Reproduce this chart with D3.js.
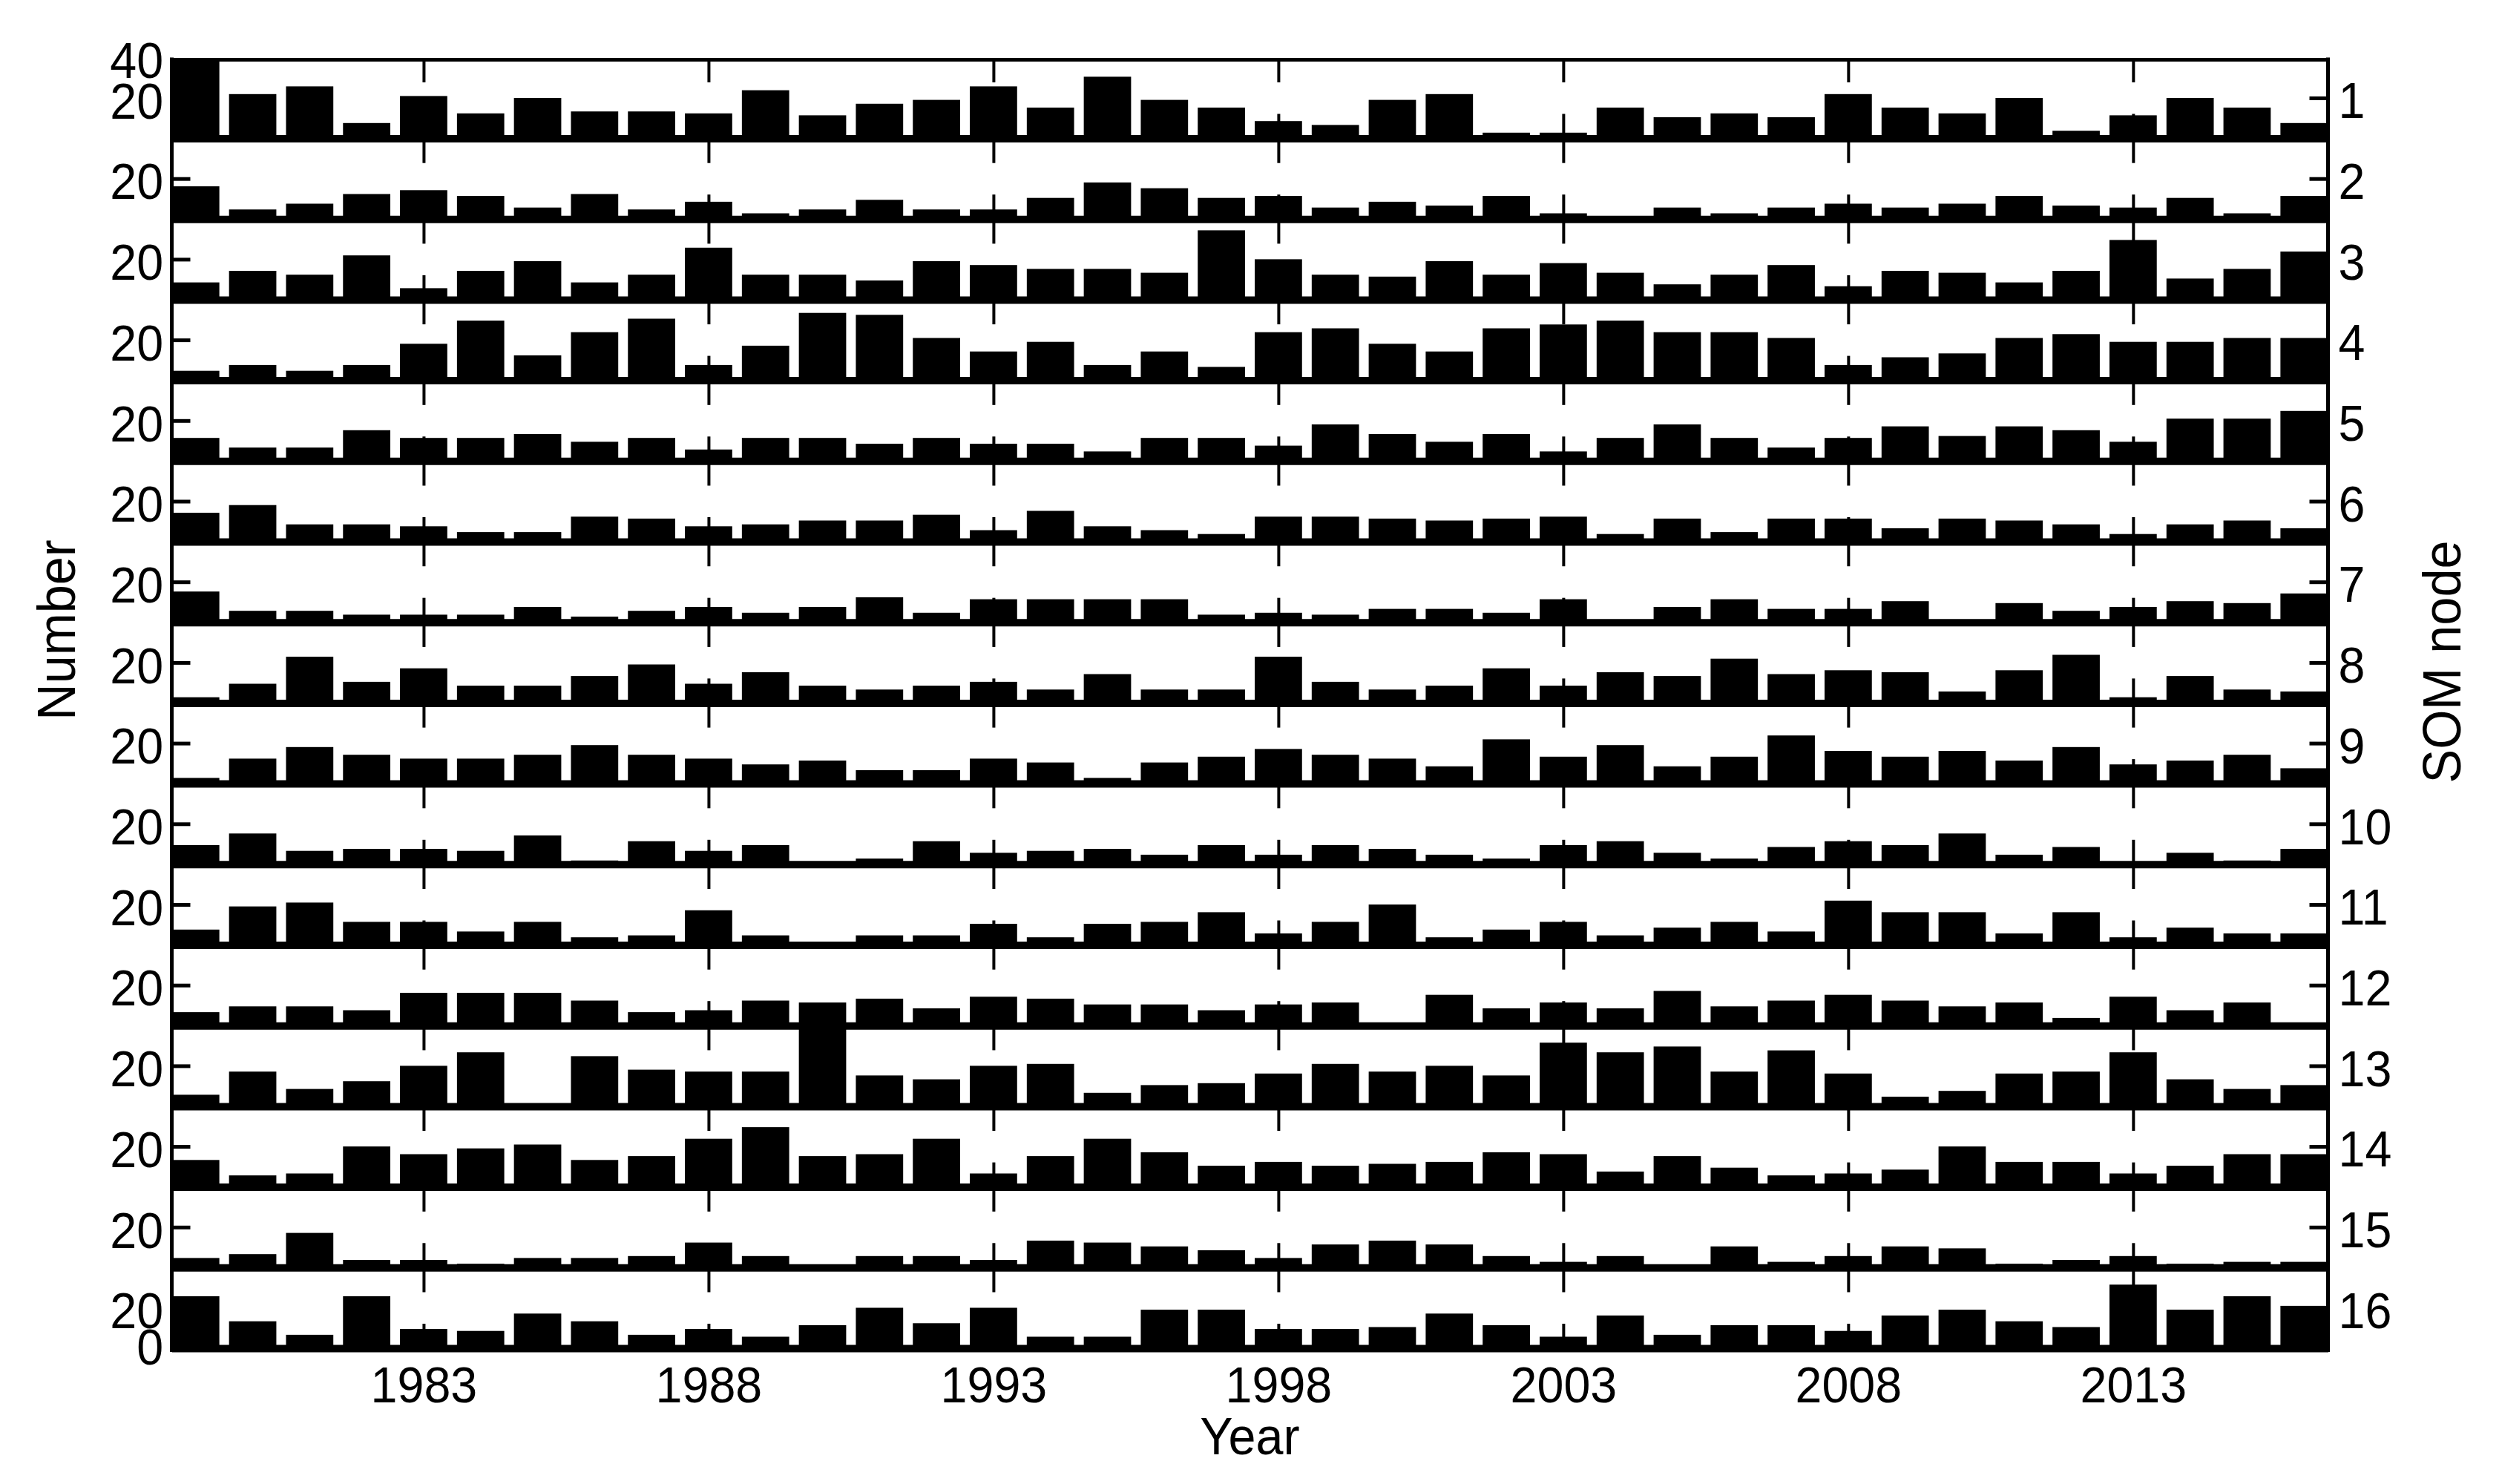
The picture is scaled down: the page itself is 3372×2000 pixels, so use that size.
<!DOCTYPE html>
<meta charset="utf-8">
<style>

 body { margin: 0; background: #fff; }
 text { font-family: "Liberation Sans", Arial, sans-serif; fill: #000; }
 .tick line { stroke: #000; }

</style>
<body>
<svg width="3372" height="2000"></svg>
<script src="https://d3js.org/d3.v7.min.js"></script>
<script>

 // one bar per year, one row per SOM node
 var years = [1979, 1980, 1981, 1982, 1983, 1984, 1985, 1986, 1987, 1988,
              1989, 1990, 1991, 1992, 1993, 1994, 1995, 1996, 1997, 1998,
              1999, 2000, 2001, 2002, 2003, 2004, 2005, 2006, 2007, 2008,
              2009, 2010, 2011, 2012, 2013, 2014, 2015, 2016];
 var xTicks = [1983, 1988, 1993, 1998, 2003, 2008, 2013];

 var node1  = [40,22,26,7,21,12,20,13,13,12,24,11,17,19,26,15,31,19,15,8,6,19,22,2,2,15,10,12,10,22,15,12,20,3,11,20,15,7];
 var node2  = [16,4,7,12,14,11,5,12,4,8,2,4,9,4,4,10,18,15,10,11,5,8,6,11,2,0,5,2,5,7,5,7,11,6,5,10,2,11];
 var node3  = [8,14,12,22,5,14,19,8,12,26,12,12,9,19,17,15,15,13,35,20,12,11,19,12,18,13,7,12,17,6,14,13,8,14,30,10,15,24];
 var node4  = [4,7,4,7,18,30,12,24,31,7,17,34,33,21,14,19,7,14,6,24,26,18,14,26,28,30,24,24,21,7,11,13,21,23,19,19,21,21];
 var node5  = [11,6,6,15,11,11,13,9,11,5,11,11,8,11,8,8,4,11,11,7,18,13,9,13,4,11,18,11,6,11,17,12,17,15,9,21,21,25];
 var node6  = [14,18,8,8,7,4,4,12,11,7,8,10,10,13,5,15,7,5,3,12,12,11,10,11,12,3,11,4,11,11,6,11,10,8,3,8,10,6];
 var node7  = [15,5,5,3,3,3,7,2,5,7,4,7,12,4,11,11,11,11,3,4,3,6,6,4,11,0,7,11,6,6,10,0,9,5,7,10,9,14];
 var node8  = [2,9,23,10,17,8,8,13,19,9,15,8,6,8,10,6,14,6,6,23,10,6,8,17,8,15,13,22,14,16,15,5,16,24,2,13,6,5];
 var node9  = [2,12,18,14,12,12,14,19,14,12,9,11,6,6,12,10,2,10,13,17,14,12,8,22,13,19,8,13,24,16,13,16,11,18,9,11,14,7];
 var node10 = [9,15,6,7,7,6,14,1,11,6,9,0,2,11,5,6,7,4,9,4,9,7,4,2,9,11,5,2,8,11,9,15,4,8,0,5,1,7];
 var node11 = [7,19,21,11,11,6,11,3,4,17,4,0,4,4,10,3,10,11,16,5,11,20,3,7,11,4,8,11,6,22,16,16,5,16,3,8,5,5];
 var node12 = [6,9,9,7,16,16,16,12,6,7,12,11,13,8,14,13,10,10,7,10,11,0,15,8,11,8,17,9,12,15,12,9,11,3,14,7,11,0];
 var node13 = [5,17,8,12,20,27,0,25,18,17,17,40,15,13,20,21,6,10,11,16,21,17,20,15,32,27,30,17,28,16,4,7,16,17,27,13,8,10];
 var node14 = [13,5,6,20,16,19,21,13,15,24,30,15,16,24,6,15,24,17,10,12,10,11,12,17,16,7,15,9,5,6,8,20,12,12,6,10,16,16];
 var node15 = [4,6,17,3,3,1,4,4,5,12,5,0,5,5,3,13,12,10,8,4,11,13,11,5,2,5,0,10,2,5,10,9,1,3,5,1,2,2];
 var node16 = [26,13,6,26,9,8,17,13,6,9,5,11,20,12,20,5,5,19,19,9,9,10,17,11,5,16,6,11,11,8,16,19,13,10,32,19,26,21];

 var nodes = [node1, node2, node3, node4, node5, node6, node7, node8,
              node9, node10, node11, node12, node13, node14, node15, node16];

 var svg = d3.select("svg"),
     left = 231.5,
     right = 3137.5,
     top0 = 80,
     step = 108.7,   // distance between panels
     ph = 104,       // height of 0..40 in a panel
     fs = 68,        // tick label size
     narrow = "scale(0.95,1)";

 var x = d3.scaleLinear().domain([1978.58, 2016.42]).range([left, right]);
 var half = 0.415; // half bar width, in years

 nodes.forEach(function(vals, i) {
     var top = top0 + i * step;
     var y = d3.scaleLinear().domain([0, 40]).range([top + ph, top]).clamp(true);
     var g = svg.append("g");

     g.selectAll("rect")
      .data(vals)
      .enter().append("rect")
      .attr("x", function(d, j) { return x(years[j] - half); })
      .attr("width", function(d, j) { return x(years[j] + half) - x(years[j] - half); })
      .attr("y", function(d) { return y(d); })
      .attr("height", function(d) { return y(0) - y(d); })
      .attr("fill", "#000");

     // thick baseline with inward year ticks
     g.append("g")
      .attr("transform", "translate(0," + (y(0) + 2.5) + ")")
      .call(d3.axisTop(x).tickValues(xTicks).tickSizeInner(33).tickSizeOuter(0).tickFormat(""))
      .call(function(a) {
          a.select(".domain").attr("stroke", "#000").attr("stroke-width", 10);
          a.selectAll(".tick line").attr("stroke-width", 4);
      });

     // ticks hanging from the top edge
     g.append("g")
      .attr("transform", "translate(0," + top + ")")
      .call(d3.axisBottom(x).tickValues(xTicks).tickSizeInner(31).tickSizeOuter(0).tickFormat(""))
      .call(function(a) {
          a.select(".domain").attr("stroke", "#000").attr("stroke-width", i == 0 ? 5 : 0);
          a.selectAll(".tick line").attr("stroke-width", 4);
      });

     var yTicks = i == 0 ? [20, 40] : (i == nodes.length - 1 ? [0, 20] : [20]);

     g.append("g")
      .attr("transform", "translate(" + left + ",0)")
      .call(d3.axisLeft(y).tickValues(yTicks).tickSizeInner(-25).tickSizeOuter(0).tickPadding(12))
      .call(function(a) {
          a.select(".domain").remove();
          a.selectAll(".tick line").attr("stroke-width", 5);
          a.selectAll("text")
           .attr("font-size", fs)
           .attr("transform", narrow)
           .attr("dy", function(d) { return d == 20 ? "0.4em" : "0.36em"; });
      });

     g.append("g")
      .attr("transform", "translate(" + right + ",0)")
      .call(d3.axisRight(y).tickValues([20]).tickSizeInner(-25).tickSizeOuter(0).tickFormat(""))
      .call(function(a) {
          a.select(".domain").remove();
          a.selectAll(".tick line").attr("stroke-width", 5);
      });

     g.append("text")
      .attr("transform", "translate(" + (right + 14) + "," + y(20) + ") " + narrow)
      .attr("dy", "0.4em")
      .attr("font-size", fs)
      .text(i + 1);
 });

 var bottom = top0 + (nodes.length - 1) * step + ph + 7.5;

 // left and right frame lines
 [left, right].forEach(function(xx) {
     svg.append("line")
        .attr("x1", xx).attr("x2", xx)
        .attr("y1", top0 - 2.5).attr("y2", bottom)
        .attr("stroke", "#000").attr("stroke-width", 5);
 });

 svg.append("g")
    .attr("transform", "translate(0," + bottom + ")")
    .call(d3.axisBottom(x).tickValues(xTicks).tickSize(0).tickPadding(20).tickFormat(d3.format("d")))
    .call(function(a) {
        a.select(".domain").remove();
        a.selectAll("text").attr("font-size", fs).attr("transform", narrow);
    });

 svg.append("text")
    .attr("transform", "translate(" + ((left + right) / 2) + ",1960) " + narrow)
    .attr("text-anchor", "middle")
    .attr("font-size", 70)
    .text("Year");

 svg.append("text")
    .attr("transform", "translate(101,849) rotate(-90) " + narrow)
    .attr("text-anchor", "middle")
    .attr("font-size", 72)
    .text("Number");

 svg.append("text")
    .attr("transform", "translate(3316,892) rotate(-90) " + narrow)
    .attr("text-anchor", "middle")
    .attr("font-size", 72)
    .text("SOM node");

</script>
</body>
